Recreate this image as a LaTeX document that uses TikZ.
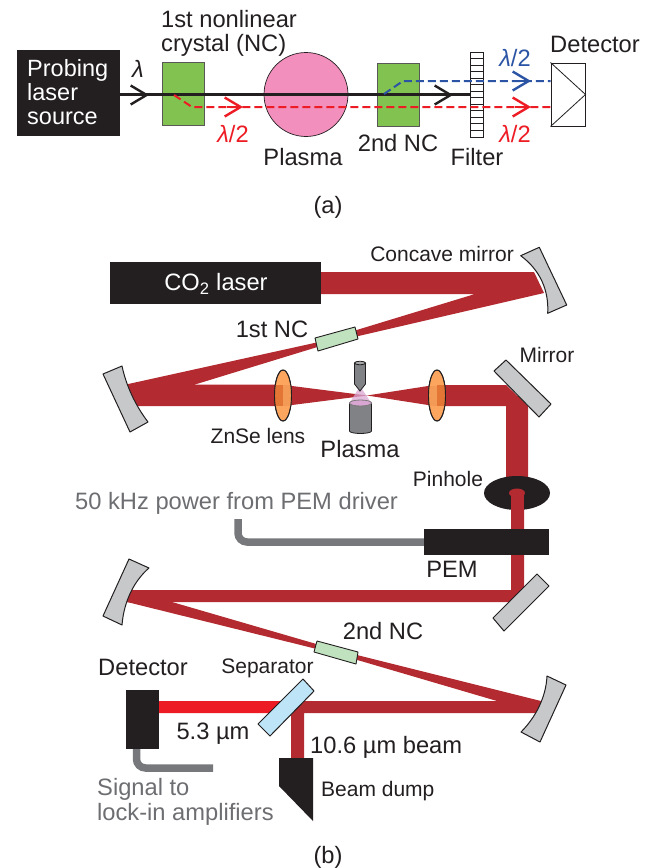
\documentclass[tikz,border=0pt]{standalone}
\usepackage{fontspec}
\setmainfont{Liberation Sans}
\usepackage{xcolor}
\usetikzlibrary{positioning,arrows.meta}
\definecolor{beamred}{HTML}{B32A30}
\definecolor{inkblack}{HTML}{231F20}
\definecolor{crystalgreen}{HTML}{82C250}
\definecolor{plasmapink}{HTML}{F28FBD}
\definecolor{mirrorgray}{HTML}{C7C8CA}
\definecolor{wiregray}{HTML}{77787B}
\definecolor{textgray}{HTML}{6D6E71}
\definecolor{lensorange}{HTML}{FBA55E}
\definecolor{lensdark}{HTML}{E37535}
\definecolor{lensmid}{HTML}{F39A56}
\definecolor{ncgreen}{HTML}{C1E2BE}
\definecolor{sepblue}{HTML}{BDE4F7}
\definecolor{hotred}{HTML}{ED1C24}
\definecolor{dashblue}{HTML}{2B55A4}
\definecolor{cellgray}{HTML}{808285}
\definecolor{glowpink}{HTML}{D9A6D3}
\tikzset{
  lab/.style={inner sep=0pt,text=inkblack,font=\fontsize{23.7}{25}\selectfont},
  tinylab/.style={inner sep=0pt,text=inkblack,font=\fontsize{21}{24}\selectfont},
  blackbox/.style={fill=inkblack,inner sep=0pt},
  greenbox/.style={draw=inkblack!75,line width=0.7pt,fill=crystalgreen,inner sep=0pt,minimum width=42pt,minimum height=63pt},
  mirrorpart/.style={draw=inkblack,line width=1pt,fill=mirrorgray,line join=round},
  ncpart/.style={draw=inkblack,line width=0.9pt,fill=ncgreen,line join=round},
  lenspart/.style={draw=inkblack,line width=0.9pt,fill=lensorange},
  wire/.style={draw=wiregray,line width=7.5pt,rounded corners=9pt},
  chevron/.style={line width=2.4pt,-{Straight Barb[length=16pt,width=19pt]}},
}
\begin{document}
\begin{tikzpicture}[x=1pt,y=-1pt]
  \useasboundingbox (0,0) rectangle (654,868);

  % part (a): probing layout
  \node[blackbox,minimum width=103pt,minimum height=86pt] (source) at (68.5,93) {};
  \node[lab,text=white,align=left,anchor=base west,font=\fontsize{23.5}{24}\selectfont] (sourcetext) at (27,124) {Probing\\laser\\source};
  \node[greenbox] (nca) at (183,94) {};
  \node[circle,draw=inkblack,line width=0.7pt,fill=plasmapink,inner sep=0pt,minimum size=84pt] (plasmaa) at (306,94.5) {};
  \node[greenbox] (ncb) at (398,94.5) {};
  \node[draw=inkblack,line width=1pt,fill=white,inner sep=0pt,minimum width=13pt,minimum height=85pt] (filter) at (476.5,94.5) {};
  \foreach \y in {1,...,12}
    \draw[inkblack,line width=0.9pt] (470,52+6.54*\y) -- (483,52+6.54*\y);
  \node[draw=inkblack,line width=1pt,fill=white,inner sep=0pt,minimum width=34pt,minimum height=63pt] (deta) at (568,94.5) {};
  \draw[inkblack,line width=0.8pt] (deta.north west) -- (deta.east) -- (deta.south west);

  % beams of part (a)
  \coordinate (redstart) at (174,95);
  \coordinate (redbend) at (192,107);
  \coordinate (blustart) at (384,94);
  \coordinate (blubend) at (403,81);
  \draw[inkblack,line width=2.4pt] ([yshift=-1.5pt]source.east) -- (filter.west);
  \draw[hotred,line width=2pt,dash pattern=on 8pt off 4pt] (redstart) -- (redbend) -- (redbend -| deta.west);
  \draw[dashblue,line width=2pt,dash pattern=on 8pt off 4pt] (blustart) -- (blubend) -- (blubend -| deta.west);
  \draw[chevron,inkblack] (133,95) -- (149,95);
  \draw[chevron,inkblack] (437,95) -- (453,95);
  \draw[chevron,hotred] (227,107) -- (243,107);
  \draw[chevron,hotred] (515,107) -- (531,107);
  \draw[chevron,dashblue] (515,81) -- (531,81);

  \node[lab,align=left,anchor=base west,font=\fontsize{23.7}{24}\selectfont] (ncalabel) at (161,51) {1st nonlinear\\crystal (NC)};
  \node[lab,anchor=base] (lama) at (138,77) {\itshape λ};
  \node[lab,text=hotred,anchor=base] (lamb) at (233,142) {\itshape λ\upshape/2};
  \node[lab,anchor=base] (plasmalabel) at (303,165) {Plasma};
  \node[lab,anchor=base] (ncblabel) at (398,151) {2nd NC};
  \node[lab,anchor=base] (filterlabel) at (477,165) {Filter};
  \node[lab,text=dashblue,anchor=base] (lamc) at (515,66) {\itshape λ\upshape/2};
  \node[lab,text=hotred,anchor=base] (lamd) at (515,142) {\itshape λ\upshape/2};
  \node[lab,anchor=base] (detalabel) at (595,52) {Detector};
  \node[lab,anchor=base] (parta) at (328,213) {(a)};

  % part (b): beam path, drawn first
  \fill[beamred] (321,272) -- (534,272) -- (544,293) -- (337,341) -- (337,336) -- (475,294) -- (321,294) -- cycle;
  \fill[beamred] (337,338) -- (126,384.5) -- (126,387) -- (195,387) -- (195,384.5) -- (337,341) -- cycle;
  \fill[beamred] (126,384.5) -- (283,384.5) -- (292,386) -- (367,395.5) -- (292,405) -- (283,406) -- (130,406) -- cycle;
  \fill[beamred] (367,395.5) -- (428,386) -- (437,385) -- (506,385) -- (528,406) -- (528,480) -- (506,480) -- (506,406) -- (437,406) -- (428,405) -- cycle;
  \fill[beamred] (511,493) -- (524,493) -- (524,590) -- (511,602) -- (127,602) -- (127,590) -- (511,590) -- cycle;
  \fill[beamred] (172,600) -- (172,602) -- (337,650) -- (337,654) -- (127,602) -- (127,600) -- cycle;
  \fill[beamred] (337,650) -- (541,701) -- (540,713) -- (304,713) -- (304,758) -- (291,758) -- (291,713) -- (285,701) -- (497,701) -- (337,654) -- cycle;
  \fill[hotred] (159,701) -- (285,701) -- (272,713) -- (159,713) -- cycle;

  % CO2 laser and mirrors
  \node[blackbox,minimum width=211pt,minimum height=42pt] (cotwo) at (215.5,283) {};
  \node[lab,text=white] (cotwotext) at (216,284) {CO\textsubscript{2} laser};
  \draw[mirrorpart] (520.7,255.7) -- (539.3,247.3) -- (566.7,305) -- (547.7,313.3) .. controls (549,290) and (540,270) .. cycle;
  \draw[mirrorpart] (103,374) -- (122,366) .. controls (126,385) and (135,405) .. (148,422) -- (130,432) -- cycle;
  \draw[mirrorpart] (129,559) -- (149,568) .. controls (135,580) and (124,600) .. (122,625) -- (103,616) -- cycle;
  \draw[mirrorpart] (547,676) -- (566,685) -- (540,742) -- (521,732) .. controls (535,718) and (546,698) .. cycle;
  \draw[mirrorpart] (494,371) -- (506,360) -- (551,404) -- (539,417) -- cycle;
  \draw[mirrorpart] (493,618) -- (537,574) -- (549,586) -- (504,631) -- cycle;

  % crystals in the beam
  \draw[ncpart] (315,338) -- (355,327) -- (358,339) -- (318,351) -- cycle;
  \draw[ncpart] (317,641) -- (358,652) -- (356,664) -- (314,652) -- cycle;

  % lenses
  \draw[lenspart] (283,395.5) ellipse [x radius=8.5,y radius=25.5];
  \draw[lenspart] (437,395.5) ellipse [x radius=8.5,y radius=25.5];
  \begin{scope}
    \clip (283,395.5) ellipse [x radius=8.5,y radius=25.5];
    \fill[lensdark] (274,384.5) rectangle (283,406);
    \fill[lensmid] (283,385) rectangle (292,405.5);
  \end{scope}
  \begin{scope}
    \clip (437,395.5) ellipse [x radius=8.5,y radius=25.5];
    \fill[lensdark] (437,385) rectangle (446,406);
    \fill[lensmid] (428,386) rectangle (437,405.5);
  \end{scope}
  \draw[inkblack,line width=0.9pt] (283,395.5) ellipse [x radius=8.5,y radius=25.5];
  \draw[inkblack,line width=0.9pt] (437,395.5) ellipse [x radius=8.5,y radius=25.5];

  % plasma source
  \fill[glowpink,opacity=0.75] (360,386) -- (349,404) -- (372,404) -- cycle;
  \draw[inkblack,line width=0.8pt,fill=cellgray] (354.5,363) -- (354.5,384) -- (360,391) -- (365.5,384) -- (365.5,363) -- cycle;
  \draw[inkblack,line width=0.8pt,fill=cellgray!70] (360,363) ellipse [x radius=5.5,y radius=1.8];
  \draw[inkblack,line width=0.8pt,fill=cellgray] (349.5,403) -- (349.5,431) arc[start angle=180,end angle=360,x radius=11,y radius=-2.5] -- (371.5,403) -- cycle;
  \draw[inkblack!60,line width=0.8pt,fill=glowpink] (360.5,403) ellipse [x radius=11,y radius=3];

  % pinhole and PEM
  \fill[inkblack] (517,493) ellipse [x radius=33,y radius=17];
  \fill[beamred] (511,493) rectangle (524,530);
  \fill[beamred] (517,493) ellipse [x radius=8,y radius=4.5];
  \node[blackbox,minimum width=125pt,minimum height=26pt] (pem) at (486.5,542) {};
  \coordinate (pemwire) at (238,519);
  \draw[wire] (pemwire) -- (238,542) -- (pem.west);

  % detector, separator and dump
  \draw[draw=inkblack,line width=1pt,fill=sepblue,line join=round] (258,724) -- (303,679) -- (314,691) -- (270,736) -- cycle;
  \node[blackbox,minimum width=33pt,minimum height=59pt] (detb) at (142.5,719.5) {};
  \coordinate (sigend) at (213,768);
  \draw[wire] (136.5,749) -- (136.5,768) -- (sigend);
  \fill[inkblack] (279,758) -- (313,758) -- (313,821) -- (279,786) -- cycle;

  % labels of part (b)
  \node[tinylab,anchor=base east] (concavelabel) at (514,261) {Concave mirror};
  \node[lab,anchor=base] (ncclabel) at (272,337) {1st NC};
  \node[tinylab,anchor=base] (lenslabel) at (258,443) {ZnSe lens};
  \node[lab,anchor=base] (plasmabase) at (360,457) {Plasma};
  \node[tinylab,anchor=base] (mirrorlabel) at (547,362) {Mirror};
  \node[tinylab,anchor=base] (pinholelabel) at (448,486) {Pinhole};
  \node[lab,text=textgray,anchor=base west] (powerlabel) at (75,509) {50 kHz power from PEM driver};
  \node[lab,anchor=base] (pemlabel) at (452,577) {PEM};
  \node[lab,anchor=base] (ncdlabel) at (383,639) {2nd NC};
  \node[lab,anchor=base] (detblabel) at (143,675) {Detector};
  \node[tinylab,anchor=base] (seplabel) at (267.5,673) {Separator};
  \node[lab,anchor=base] (shortlabel) at (213,739) {5.3 µm};
  \node[lab,anchor=base west] (longlabel) at (310,753) {10.6 µm beam};
  \node[tinylab,anchor=base west] (dumplabel) at (321,796) {Beam dump};
  \node[lab,text=textgray,align=left,anchor=base west] (siglabel) at (97,820) {Signal to\\lock-in amplifiers};
  \node[lab,anchor=base] (partb) at (328,863) {(b)};
\end{tikzpicture}
\end{document}
